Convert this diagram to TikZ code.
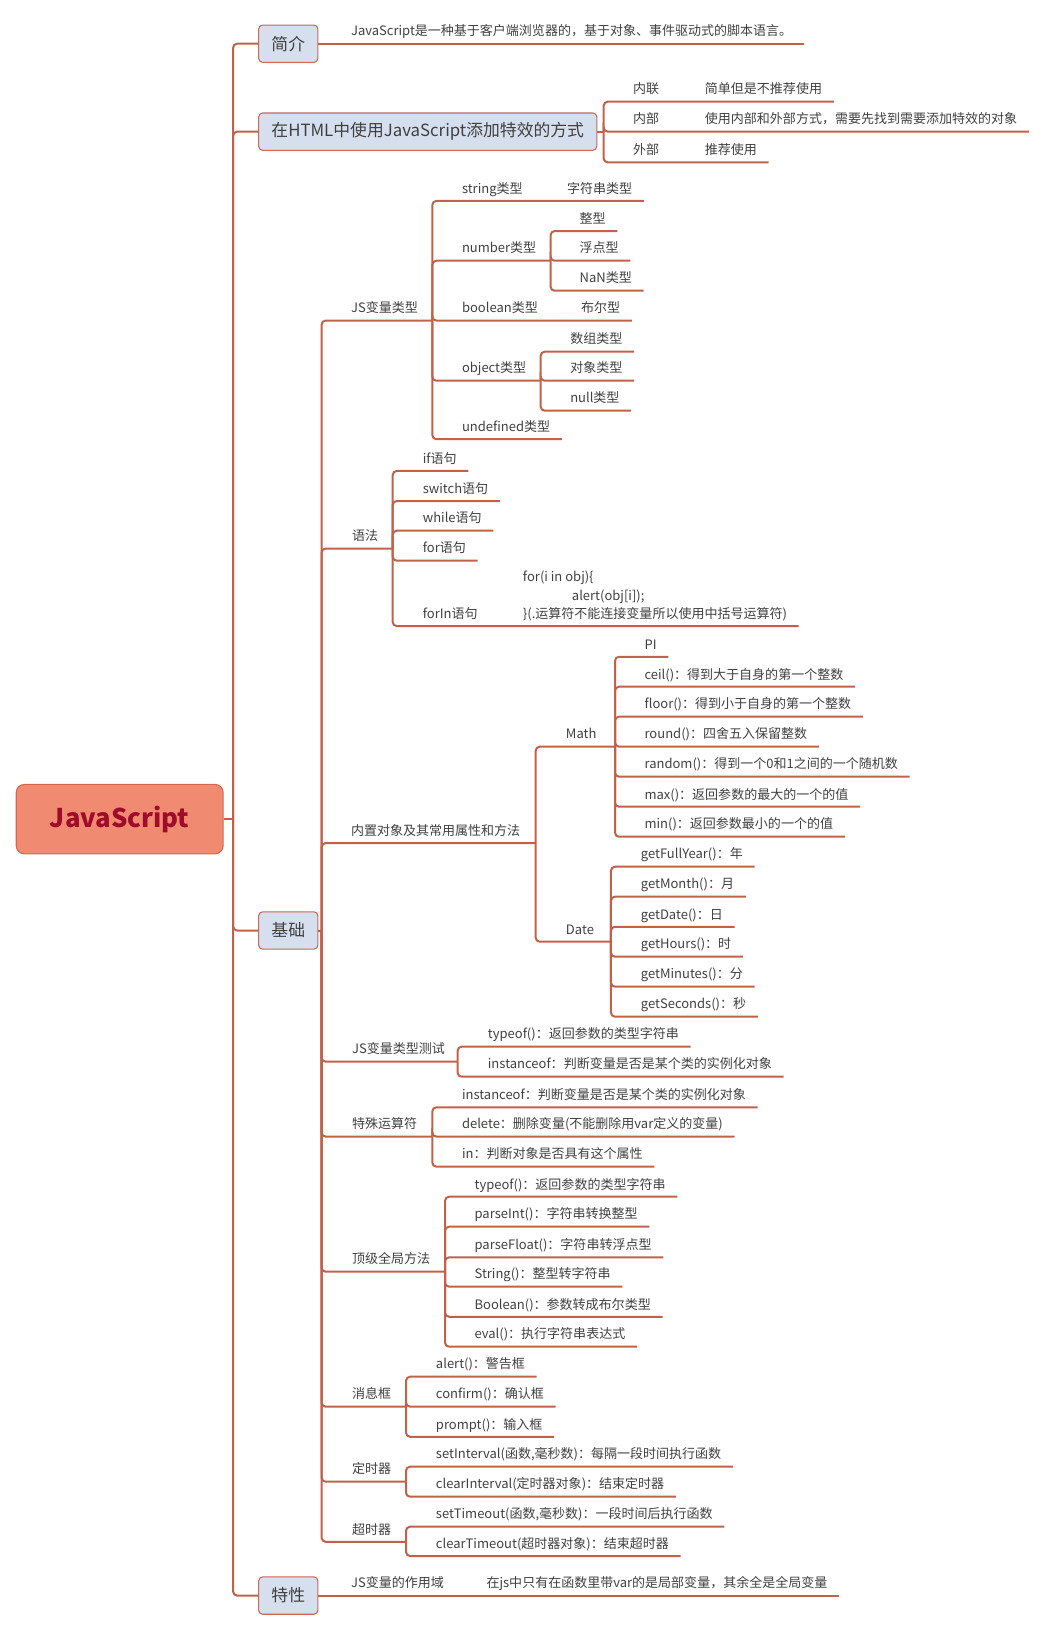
\documentclass[tikz,border=0pt]{standalone}
\usepackage{fontspec}
\setmainfont{Noto Sans CJK SC}
\usepackage{xcolor}
\usepackage{tikz}
\definecolor{branch}{HTML}{C0624A}
\definecolor{rootfill}{HTML}{F08A70}
\definecolor{rootedge}{HTML}{D9664C}
\definecolor{roottext}{HTML}{A10B2B}
\definecolor{catfill}{HTML}{D6DFEE}
\definecolor{catedge}{HTML}{C46A55}
\definecolor{txt}{HTML}{404040}
\newcommand\tpfont{\fontsize{9.75}{12}\selectfont}
\newcommand\catfont{\fontsize{12.6}{15}\selectfont}
\newcommand\rootfont{\fontsize{19.3}{23}\selectfont\bfseries}
\tikzset{
  ln/.style={draw=branch, line width=1.5pt, rounded corners=3pt},
  tp/.style={anchor=south west, font=\tpfont, text=txt, inner xsep=8.6pt, inner ysep=0pt, text height=7.5pt, text depth=5.6pt},
  cat/.style={anchor=west, draw=catedge, fill=catfill, line width=0.8pt, rounded corners=3pt, font=\catfont, text=txt, minimum height=28pt, inner xsep=9.6pt},
  root/.style={draw=rootedge, fill=rootfill, line width=0.8pt, rounded corners=6pt, font=\rootfont, text=roottext, minimum width=155pt, minimum height=52pt}
}
\begin{document}
\begin{tikzpicture}[x=0.78pt, y=-0.78pt]
\useasboundingbox (0,0) rectangle (1005,1568);
% root and trunk
\node[root] (js) at (115,787) {JavaScript};
\coordinate (trunk) at (224,787);
\draw[ln] (js.east) -- (trunk);

% 简介
\node[cat] (intro) at (248,42) {简介};
\node[tp] (introdesc) at (326,42) {JavaScript是一种基于客户端浏览器的，基于对象、事件驱动式的脚本语言。};
\draw[ln] (trunk) |- (intro.west);
\draw[ln] (intro.east) -- (introdesc.south east);

% 在HTML中使用JavaScript添加特效的方式
\node[cat] (html) at (248,126.5) {在HTML中使用JavaScript添加特效的方式};
\coordinate (htmlJ) at (580,126.5);
\draw[ln] (trunk) |- (html.west);
\draw[ln] (html.east) -- (htmlJ);
\node[tp] (inl) at (597,97.7) {内联};
\node[tp] (inldesc) at (666,97.7) {简单但是不推荐使用};
\node[tp] (inner) at (597,126.5) {内部};
\node[tp] (innerdesc) at (666,126.5) {使用内部和外部方式，需要先找到需要添加特效的对象};
\node[tp] (outer) at (597,156) {外部};
\node[tp] (outerdesc) at (666,156) {推荐使用};
\draw[ln] (htmlJ) |- (inl.south east) -- (inldesc.south east);
\draw[ln] (htmlJ) |- (inner.south east) -- (innerdesc.south east);
\draw[ln] (htmlJ) |- (outer.south east) -- (outerdesc.south east);

% 基础
\node[cat] (basic) at (248,894) {基础};
\coordinate (basicJ) at (309,894);
\draw[ln] (trunk) |- (basic.west);
\draw[ln] (basic.east) -- (basicJ);

% JS变量类型
\node[tp] (jsvar) at (326,308) {JS变量类型};
\coordinate (jsvarJ) at (415.4,308);
\draw[ln] (basicJ) |- (jsvarJ);
\node[tp] (str) at (432.6,193) {string类型};
\node[tp] (strdesc) at (533.5,193) {字符串类型};
\draw[ln] (jsvarJ) |- (str.south east) -- (strdesc.south east);
\node[tp] (num) at (432.6,250.5) {number类型};
\coordinate (numJ) at (529,250.5);
\draw[ln] (jsvarJ) |- (numJ);
\node[tp] (int) at (545.6,222) {整型};
\node[tp] (float) at (545.6,250.5) {浮点型};
\node[tp] (nan) at (545.6,279.3) {NaN类型};
\draw[ln] (numJ) |- (int.south east);
\draw[ln] (numJ) |- (float.south east);
\draw[ln] (numJ) |- (nan.south east);
\node[tp] (bool) at (432.6,308) {boolean类型};
\node[tp] (booldesc) at (547,308) {布尔型};
\draw[ln] (jsvarJ) |- (bool.south east) -- (booldesc.south east);
\node[tp] (object) at (432.6,365.8) {object类型};
\coordinate (objJ) at (519.5,365.8);
\draw[ln] (jsvarJ) |- (objJ);
\node[tp] (arr) at (536.6,337.9) {数组类型};
\node[tp] (obj) at (536.6,365.8) {对象类型};
\node[tp] (null) at (536.6,394.6) {null类型};
\draw[ln] (objJ) |- (arr.south east);
\draw[ln] (objJ) |- (obj.south east);
\draw[ln] (objJ) |- (null.south east);
\node[tp] (undef) at (432.6,422) {undefined类型};
\draw[ln] (jsvarJ) |- (undef.south east);

% 语法
\node[tp] (syntax) at (327,527) {语法};
\coordinate (syntaxJ) at (377.3,527);
\draw[ln] (basicJ) |- (syntaxJ);
\node[tp] (if) at (395,452.5) {if语句};
\node[tp] (switch) at (395,481.4) {switch语句};
\node[tp] (while) at (395,509.9) {while语句};
\node[tp] (for) at (395,538.7) {for语句};
\node[tp] (forin) at (395,601.5) {forIn语句};
\node[tp, font=\fontsize{9.75}{13.7}\selectfont] (forindesc) at (491.2,601.5)
  {\begin{tabular}[b]{@{}l@{}}for(i in obj)\{\\\hspace*{36.7pt}alert(obj[i]);\\\}(.运算符不能连接变量所以使用中括号运算符)\end{tabular}};
\draw[ln] (syntaxJ) |- (if.south east);
\draw[ln] (syntaxJ) |- (switch.south east);
\draw[ln] (syntaxJ) |- (while.south east);
\draw[ln] (syntaxJ) |- (for.south east);
\draw[ln] (syntaxJ) |- (forin.south east) -- (forindesc.south east);

% 内置对象及其常用属性和方法
\node[tp] (builtin) at (326,810) {内置对象及其常用属性和方法};
\coordinate (builtinJ) at (514.7,810);
\draw[ln] (basicJ) |- (builtinJ);
\node[tp] (math) at (532.5,717.4) {Math};
\coordinate (mathJ) at (590.9,717.4);
\draw[ln] (builtinJ) |- (mathJ);
\node[tp] (pi) at (608,631) {PI};
\node[tp] (ceil) at (608,659.8) {ceil()：得到大于自身的第一个整数};
\node[tp] (floor) at (608,688.6) {floor()：得到小于自身的第一个整数};
\node[tp] (round) at (608,717.4) {round()：四舍五入保留整数};
\node[tp] (random) at (608,746.2) {random()：得到一个0和1之间的一个随机数};
\node[tp] (max) at (608,775.1) {max()：返回参数的最大的一个的值};
\node[tp] (min) at (608,803.9) {min()：返回参数最小的一个的值};
\draw[ln] (mathJ) |- (pi.south east);
\draw[ln] (mathJ) |- (ceil.south east);
\draw[ln] (mathJ) |- (floor.south east);
\draw[ln] (mathJ) |- (round.south east);
\draw[ln] (mathJ) |- (random.south east);
\draw[ln] (mathJ) |- (max.south east);
\draw[ln] (mathJ) |- (min.south east);
\node[tp] (date) at (532.5,904.8) {Date};
\coordinate (dateJ) at (587,904.8);
\draw[ln] (builtinJ) |- (dateJ);
\node[tp] (year) at (604.5,832.7) {getFullYear()：年};
\node[tp] (month) at (604.5,861.5) {getMonth()：月};
\node[tp] (day) at (604.5,890.4) {getDate()：日};
\node[tp] (hours) at (604.5,919.2) {getHours()：时};
\node[tp] (minutes) at (604.5,948) {getMinutes()：分};
\node[tp] (seconds) at (604.5,976.8) {getSeconds()：秒};
\draw[ln] (dateJ) |- (year.south east);
\draw[ln] (dateJ) |- (month.south east);
\draw[ln] (dateJ) |- (day.south east);
\draw[ln] (dateJ) |- (hours.south east);
\draw[ln] (dateJ) |- (minutes.south east);
\draw[ln] (dateJ) |- (seconds.south east);

% JS变量类型测试
\node[tp] (typetest) at (327,1020) {JS变量类型测试};
\coordinate (typetestJ) at (439.7,1020);
\draw[ln] (basicJ) |- (typetestJ);
\node[tp] (ttypeof) at (457.5,1005.6) {typeof()：返回参数的类型字符串};
\node[tp] (tinst) at (457.5,1034.5) {instanceof：判断变量是否是某个类的实例化对象};
\draw[ln] (typetestJ) |- (ttypeof.south east);
\draw[ln] (typetestJ) |- (tinst.south east);

% 特殊运算符
\node[tp] (special) at (327,1092) {特殊运算符};
\coordinate (specialJ) at (415.4,1092);
\draw[ln] (basicJ) |- (specialJ);
\node[tp] (sinst) at (432.6,1063.9) {instanceof：判断变量是否是某个类的实例化对象};
\node[tp] (sdel) at (432.6,1092) {delete：删除变量(不能删除用var定义的变量)};
\node[tp] (sin) at (432.6,1120.9) {in：判断对象是否具有这个属性};
\draw[ln] (specialJ) |- (sinst.south east);
\draw[ln] (specialJ) |- (sdel.south east);
\draw[ln] (specialJ) |- (sin.south east);

% 顶级全局方法
\node[tp] (global) at (327,1221.8) {顶级全局方法};
\coordinate (globalJ) at (427.6,1221.8);
\draw[ln] (basicJ) |- (globalJ);
\node[tp] (gtypeof) at (444.7,1149.8) {typeof()：返回参数的类型字符串};
\node[tp] (pint) at (444.7,1178.6) {parseInt()：字符串转换整型};
\node[tp] (pfloat) at (444.7,1208) {parseFloat()：字符串转浮点型};
\node[tp] (gstr) at (444.7,1236.2) {String()：整型转字符串};
\node[tp] (gbool) at (444.7,1265.1) {Boolean()：参数转成布尔类型};
\node[tp] (geval) at (444.7,1293.9) {eval()：执行字符串表达式};
\draw[ln] (globalJ) |- (gtypeof.south east);
\draw[ln] (globalJ) |- (pint.south east);
\draw[ln] (globalJ) |- (pfloat.south east);
\draw[ln] (globalJ) |- (gstr.south east);
\draw[ln] (globalJ) |- (gbool.south east);
\draw[ln] (globalJ) |- (geval.south east);

% 消息框
\node[tp] (msg) at (327,1351.5) {消息框};
\coordinate (msgJ) at (390.1,1351.5);
\draw[ln] (basicJ) |- (msgJ);
\node[tp] (alert) at (407.6,1322.7) {alert()：警告框};
\node[tp] (confirm) at (407.6,1351.5) {confirm()：确认框};
\node[tp] (prompt) at (407.6,1380.4) {prompt()：输入框};
\draw[ln] (msgJ) |- (alert.south east);
\draw[ln] (msgJ) |- (confirm.south east);
\draw[ln] (msgJ) |- (prompt.south east);

% 定时器
\node[tp] (timer) at (327,1423.6) {定时器};
\coordinate (timerJ) at (390.1,1423.6);
\draw[ln] (basicJ) |- (timerJ);
\node[tp] (setint) at (407.6,1409.2) {setInterval(函数,毫秒数)：每隔一段时间执行函数};
\node[tp] (clearint) at (407.6,1438) {clearInterval(定时器对象)：结束定时器};
\draw[ln] (timerJ) |- (setint.south east);
\draw[ln] (timerJ) |- (clearint.south east);

% 超时器
\node[tp] (tout) at (327,1481.3) {超时器};
\coordinate (toutJ) at (390.1,1481.3);
\draw[ln] (basicJ) |- (toutJ);
\node[tp] (settime) at (407.6,1466.8) {setTimeout(函数,毫秒数)：一段时间后执行函数};
\node[tp] (cleartime) at (407.6,1495) {clearTimeout(超时器对象)：结束超时器};
\draw[ln] (toutJ) |- (settime.south east);
\draw[ln] (toutJ) |- (cleartime.south east);

% 特性
\node[cat] (feat) at (248,1533) {特性};
\node[tp] (scope) at (326,1533) {JS变量的作用域};
\node[tp] (scopedesc) at (456.2,1533) {在js中只有在函数里带var的是局部变量，其余全是全局变量};
\draw[ln] (trunk) |- (feat.west);
\draw[ln] (feat.east) -- (scope.south east) -- (scopedesc.south east);
\end{tikzpicture}
\end{document}
